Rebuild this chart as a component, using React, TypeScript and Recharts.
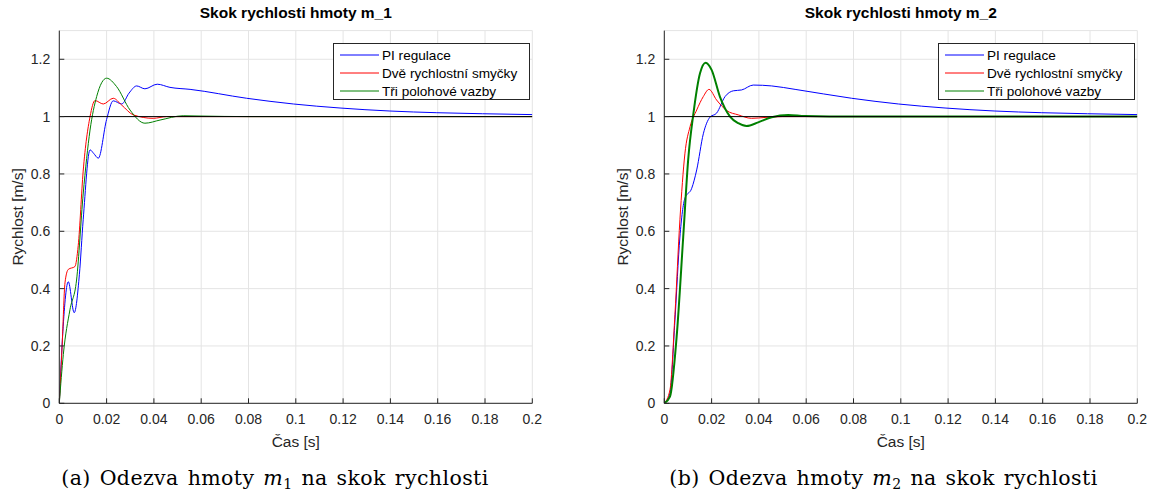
import React from 'react';
import { LineChart, Line, XAxis, YAxis, CartesianGrid } from 'recharts';

const xTicks = [0, 0.02, 0.04, 0.06, 0.08, 0.1, 0.12, 0.14, 0.16, 0.18, 0.2];
const yTicks = [0, 0.2, 0.4, 0.6, 0.8, 1, 1.2];
const seriesNames = ['PI regulace', 'Dvě rychlostní smyčky', 'Tři polohové vazby'];
const seriesColors = ['#0000ff', '#ff0000', '#008000'];
const titles = ['Skok rychlosti hmoty m_1', 'Skok rychlosti hmoty m_2'];
const xLabel = 'Čas [s]';
const yLabel = 'Rychlost [m/s]';

// m_1 response
const m1PiTime = [0, 0.0015, 0.0038, 0.0063, 0.0085, 0.0101, 0.013, 0.0145, 0.0165, 0.02, 0.0228, 0.0264, 0.0295, 0.0327, 0.0362, 0.0414, 0.0468, 0.0553, 0.0792, 0.099, 0.1187, 0.1398, 0.1596, 0.179, 0.2];
const m1PiVel = [0, 0.25, 0.424, 0.316, 0.45, 0.64, 0.884, 0.872, 0.855, 0.99, 1.055, 1.044, 1.082, 1.107, 1.097, 1.113, 1.102, 1.095, 1.064, 1.044, 1.03, 1.0195, 1.0136, 1.01, 1.007];
const m1TwoTime = [0, 0.0012, 0.0024, 0.0038, 0.0066, 0.008, 0.0101, 0.013, 0.0151, 0.0186, 0.0228, 0.0264, 0.0313, 0.0397, 0.0454, 0.06, 0.2];
const m1TwoVel = [0, 0.2, 0.42, 0.467, 0.477, 0.55, 0.81, 1.0, 1.056, 1.044, 1.064, 1.04, 1.006, 0.994, 1.0, 1.0, 1.0];
const m1ThreeTime = [0, 0.0017, 0.0045, 0.0073, 0.0101, 0.013, 0.0158, 0.02, 0.0242, 0.0299, 0.0362, 0.0426, 0.0524, 0.0595, 0.08, 0.2];
const m1ThreeVel = [0, 0.17, 0.326, 0.43, 0.73, 0.953, 1.07, 1.134, 1.105, 1.023, 0.977, 0.988, 1.003, 1.002, 1.0, 1.0];

// m_2 response
const m2PiTime = [0, 0.0024, 0.0045, 0.0066, 0.0087, 0.0116, 0.0137, 0.0165, 0.0193, 0.0221, 0.0257, 0.0292, 0.0327, 0.0376, 0.0454, 0.0553, 0.0792, 0.099, 0.1187, 0.1398, 0.1596, 0.179, 0.2];
const m2PiVel = [0, 0.035, 0.29, 0.58, 0.715, 0.75, 0.814, 0.94, 0.998, 1.012, 1.07, 1.09, 1.093, 1.11, 1.107, 1.095, 1.064, 1.044, 1.03, 1.0195, 1.0136, 1.01, 1.007];
const m2TwoTime = [0, 0.0024, 0.0045, 0.0066, 0.0087, 0.0109, 0.0137, 0.0165, 0.0189, 0.0221, 0.0264, 0.0313, 0.0369, 0.0426, 0.05, 0.2];
const m2TwoVel = [0, 0.047, 0.31, 0.64, 0.87, 0.965, 1.023, 1.07, 1.095, 1.058, 1.021, 1.006, 0.994, 0.997, 1.0, 1.0];
const m2ThreeTime = [0, 0.0024, 0.0052, 0.008, 0.0101, 0.0123, 0.0151, 0.0175, 0.02, 0.0235, 0.0278, 0.0313, 0.0348, 0.0397, 0.0454, 0.0524, 0.0595, 0.08, 0.2];
const m2ThreeVel = [0, 0.023, 0.23, 0.58, 0.85, 1.01, 1.151, 1.188, 1.163, 1.07, 1.0, 0.977, 0.967, 0.98, 0.998, 1.006, 1.002, 1.0, 1.0];

// reference step
const refTime = [0, 0.2];
const refVel = [1, 1];

const zip = (t: number[], v: number[]) => t.map((x, i) => ({ t: x, v: v[i] }));

const FONT = '"Liberation Sans", Arial, Helvetica, sans-serif';
const AX = '#262626';

const YLab = (props: any) => {
  const vb = props.viewBox || { x: 0, y: 0, width: 0, height: 0 };
  const cx = 18;
  const cy = vb.y + vb.height / 2;
  return (
    <text x={cx} y={cy} transform={`rotate(-90, ${cx}, ${cy})`} textAnchor="middle" dominantBaseline="central" fontSize={15.5} fill={AX} fontFamily={FONT}>
      {yLabel}
    </text>
  );
};

type PanelProps = {
  left: number;
  title: string;
  pi: { t: number; v: number }[];
  two: { t: number; v: number }[];
  three: { t: number; v: number }[];
  greenWidth: number;
};

const Panel = ({ left, title, pi, two, three, greenWidth }: PanelProps) => {
  const ref = zip(refTime, refVel);
  const series = [pi, two, three];
  return (
    <div style={{ position: 'absolute', left, top: 0, width: 545, height: 452 }}>
      <div style={{ position: 'absolute', left: 59.3, width: 473, top: 4, textAlign: 'center', fontFamily: FONT, fontWeight: 'bold', fontSize: 15.5, color: '#000', whiteSpace: 'nowrap' }}>
        {title}
      </div>
      <LineChart width={545} height={452} data={pi} margin={{ top: 30.6, right: 12.7, bottom: 0, left: 0 }}>
        <CartesianGrid xAxisId="b" yAxisId="l" stroke="#e4e4e4" strokeWidth={1} />
        <XAxis xAxisId="b" dataKey="t" type="number" domain={[0, 0.2]} ticks={xTicks} allowDataOverflow
          height={48.7} tickSize={-5} tickMargin={16} stroke={AX} tickLine={{ stroke: AX }}
          tick={{ fontSize: 14, fill: AX, fontFamily: FONT }} interval={0}
          label={{ value: xLabel, position: 'insideBottom', offset: 5, fontSize: 15.5, fill: AX, fontFamily: FONT }} />
        <XAxis xAxisId="top" orientation="top" dataKey="t" type="number" domain={[0, 0.2]} ticks={xTicks} allowDataOverflow
          height={0} tickSize={-5} tick={false} stroke={AX} tickLine={{ stroke: AX }} />
        <YAxis yAxisId="l" type="number" domain={[0, 1.3]} ticks={yTicks} allowDataOverflow width={59.3}
          tickSize={-5} tickMargin={14} stroke={AX} tickLine={{ stroke: AX }} interval={0}
          tick={{ fontSize: 14, fill: AX, fontFamily: FONT }} label={{ value: yLabel, content: YLab }} />
        <YAxis yAxisId="r" orientation="right" type="number" domain={[0, 1.3]} ticks={yTicks} allowDataOverflow width={0}
          tickSize={-5} tick={false} stroke={AX} tickLine={{ stroke: AX }} />
        {series.map((d, i) => (
          <Line key={seriesNames[i]} name={seriesNames[i]} xAxisId="b" yAxisId="l" data={d} dataKey="v" type="monotone"
            stroke={seriesColors[i]} strokeWidth={i === 2 ? greenWidth : 1} dot={false} activeDot={false} isAnimationActive={false} />
        ))}
        <Line name="ref" xAxisId="b" yAxisId="l" data={ref} dataKey="v" type="linear" stroke="#000" strokeWidth={1} dot={false} activeDot={false} isAnimationActive={false} legendType="none" />
      </LineChart>
      <div style={{ position: 'absolute', left: 333, top: 43, width: 195, height: 55, border: `1px solid ${AX}`, background: '#fff', fontFamily: FONT, fontSize: 13.6, color: '#000' }}>
        {seriesNames.map((n, i) => (
          <div key={n} style={{ position: 'absolute', left: 0, top: 2 + i * 18, height: 18, display: 'flex', alignItems: 'center', whiteSpace: 'nowrap' }}>
            <svg width={45} height={18} style={{ display: 'block' }}>
              <line x1={6} x2={45} y1={9} y2={9} stroke={seriesColors[i]} strokeWidth={1} />
            </svg>
            <span style={{ marginLeft: 3 }}>{n}</span>
          </div>
        ))}
      </div>
    </div>
  );
};

const Caption = ({ left, tag, sub }: { left: number; tag: string; sub: string }) => (
  <div style={{ position: 'absolute', left: left - 260, width: 520, top: 466, height: 24, lineHeight: '24px', textAlign: 'center', fontFamily: '"DejaVu Serif", "Liberation Serif", serif', fontSize: 20.5, letterSpacing: 0.4, wordSpacing: 2, color: '#000', whiteSpace: 'nowrap' }}>
    ({tag}) Odezva hmoty <i>m</i><span style={{ fontSize: 14, lineHeight: 0, verticalAlign: '-0.3em' }}>{sub}</span> na skok rychlosti
  </div>
);

export default function App() {
  return (
    <div style={{ position: 'fixed', left: 0, top: 0, width: 1150, height: 492, background: '#fff', overflow: 'hidden' }}>
      <Panel left={0} title={titles[0]} pi={zip(m1PiTime, m1PiVel)} two={zip(m1TwoTime, m1TwoVel)} three={zip(m1ThreeTime, m1ThreeVel)} greenWidth={1} />
      <Panel left={605} title={titles[1]} pi={zip(m2PiTime, m2PiVel)} two={zip(m2TwoTime, m2TwoVel)} three={zip(m2ThreeTime, m2ThreeVel)} greenWidth={2} />
      <Caption left={275} tag="a" sub="1" />
      <Caption left={883.5} tag="b" sub="2" />
    </div>
  );
}
